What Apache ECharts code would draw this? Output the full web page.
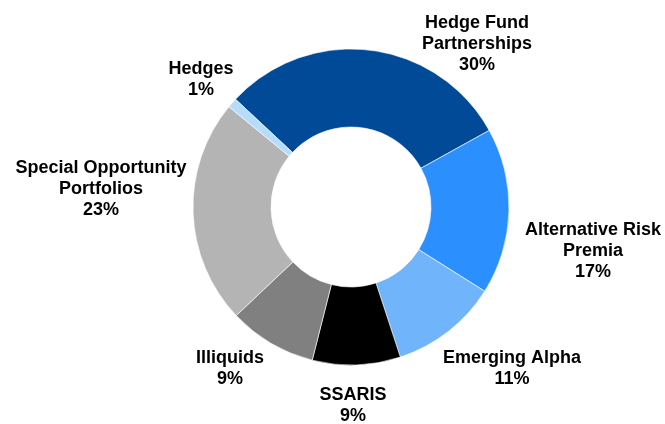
<!DOCTYPE html>
<html>
<head>
<meta charset="utf-8">
<script src="https://cdn.jsdelivr.net/npm/echarts@6/dist/echarts.min.js"></script>
<style>html,body{margin:0;padding:0;background:#fff;}#c{width:665px;height:424px;}</style>
</head>
<body>
<div id="c"></div>
<script>
const categories = ['Hedge Fund\nPartnerships', 'Alternative Risk\nPremia', 'Emerging Alpha', 'SSARIS', 'Illiquids', 'Special Opportunity\nPortfolios', 'Hedges'];
const values = [30, 17, 11, 9, 9, 23, 1];
const colors = ['#004a98', '#2b8ffe', '#70b4fb', '#000000', '#808080', '#b4b4b4', '#b6dcfb'];
// label anchor positions (layout only)
const labelPos = [[477, 44], [593, 251], [512, 369], [353, 406], [230, 369], [101, 189], [201, 80]];

const chart = echarts.init(document.getElementById('c'), null, {renderer: 'canvas'});
chart.setOption({
  animation: false,
  backgroundColor: '#ffffff',
  series: [{
    type: 'pie',
    center: [351, 207],
    radius: [80, 158],
    startAngle: 137,
    clockwise: true,
    avoidLabelOverlap: false,
    itemStyle: {borderColor: '#ffffff', borderWidth: 0.6},
    label: {
      show: true,
      position: 'outside',
      formatter: p => p.name + '\n' + p.value + '%',
      fontFamily: 'Liberation Sans, Arial, sans-serif',
      fontWeight: 'bold',
      fontSize: 18,
      lineHeight: 21,
      color: '#000',
      align: 'center'
    },
    labelLine: {show: false},
    labelLayout: function (params) {
      const p = labelPos[params.dataIndex];
      return {x: p[0], y: p[1], align: 'center', verticalAlign: 'middle'};
    },
    data: categories.map((c, i) => ({name: c, value: values[i], itemStyle: {color: colors[i]}}))
  }]
});
</script>
</body>
</html>
